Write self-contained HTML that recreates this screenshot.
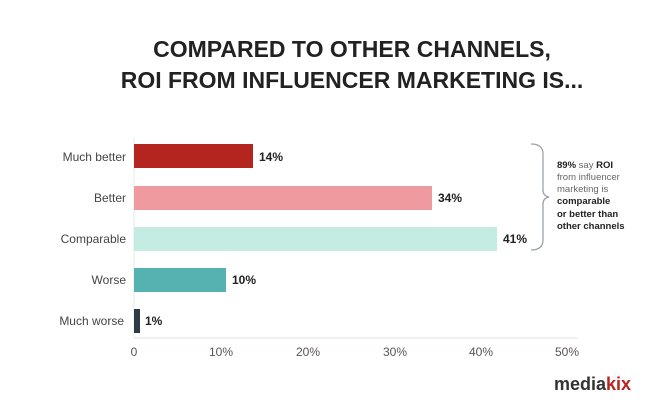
<!DOCTYPE html>
<html><head><style>
body{margin:0;width:657px;height:405px;background:#fff;overflow:hidden;font-family:"Liberation Sans",sans-serif;}
svg{display:block}
</style></head><body>
<svg width="657" height="405" xmlns="http://www.w3.org/2000/svg">
<g font-family="Liberation Sans, sans-serif">
<text x="352" y="57" text-anchor="middle" font-size="23" font-weight="bold" fill="#222">COMPARED TO OTHER CHANNELS,</text>
<text x="352" y="88" text-anchor="middle" font-size="23" font-weight="bold" fill="#222">ROI FROM INFLUENCER MARKETING IS...</text>
<line x1="134" y1="138" x2="134" y2="338" stroke="#e4e8ea"/>
<line x1="134" y1="338" x2="578" y2="338" stroke="#dde3e6"/>
<rect x="134" y="144" width="119" height="24" fill="#b5251f"/>
<rect x="134" y="186" width="298" height="24" fill="#ee9a9e"/>
<rect x="134" y="227" width="363" height="24" fill="#c4ece2"/>
<rect x="134" y="268" width="92" height="24" fill="#56b2b0"/>
<rect x="134" y="309" width="6" height="24" fill="#2d3c44"/>
<g font-size="12" fill="#444" text-anchor="end">
<text x="126" y="161">Much better</text>
<text x="126" y="202">Better</text>
<text x="126" y="243">Comparable</text>
<text x="126" y="284">Worse</text>
<text x="124" y="325">Much worse</text>
</g>
<g font-size="12" font-weight="bold" fill="#222">
<text x="259" y="161">14%</text>
<text x="438" y="202">34%</text>
<text x="503" y="243">41%</text>
<text x="232" y="284">10%</text>
<text x="145" y="325">1%</text>
</g>
<g font-size="12" fill="#555" text-anchor="middle">
<text x="134" y="356">0</text>
<text x="221" y="356">10%</text>
<text x="308" y="356">20%</text>
<text x="395" y="356">30%</text>
<text x="481" y="356">40%</text>
<text x="567" y="356">50%</text>
</g>
<path d="M531 144 Q543 144 543 154 L543 190 Q543 196 549 197 Q543 198 543 204 L543 240 Q543 250 531 250" fill="none" stroke="#9aa4aa" stroke-width="1.3"/>
<g font-size="9.5" fill="#222">
<text x="557" y="168"><tspan font-weight="bold">89%</tspan> <tspan fill="#666">say</tspan> <tspan font-weight="bold">ROI</tspan></text>
<text x="557" y="180" fill="#666">from influencer</text>
<text x="557" y="192" fill="#666">marketing is</text>
<text x="557" y="204" font-weight="bold">comparable</text>
<text x="557" y="217" font-weight="bold">or better than</text>
<text x="557" y="229" font-weight="bold">other channels</text>
</g>
<text x="554" y="390" font-size="18" font-weight="bold" fill="#333">media<tspan fill="#b5251f">kix</tspan></text>
</g>
</svg>
</body></html>
